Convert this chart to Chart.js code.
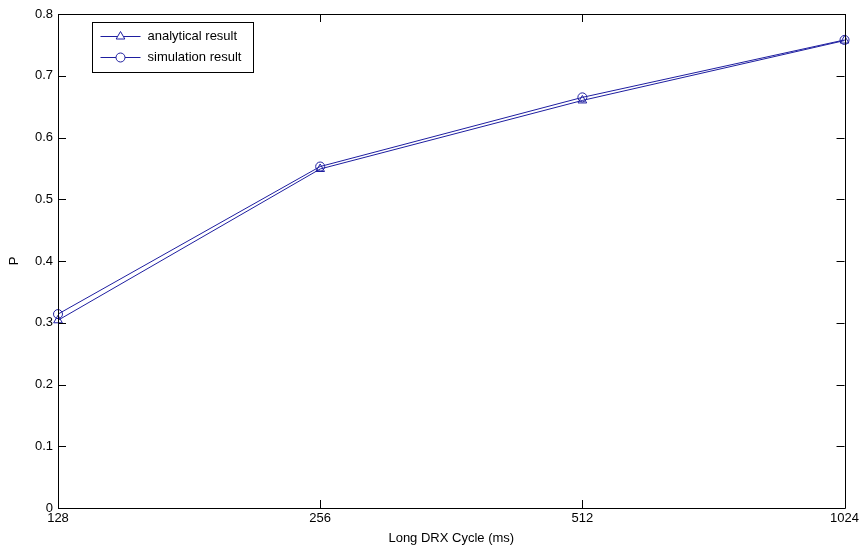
<!DOCTYPE html>
<html>
<head>
<meta charset="utf-8">
<script src="https://cdn.jsdelivr.net/npm/chart.js@4"></script>
<style>
  body { margin: 0; background: #fff; }
  #wrap { width: 862px; height: 556px; }
</style>
</head>
<body>
<div id="wrap"><canvas id="drxChart"></canvas></div>
<script>
// data
var cycles = ["128", "256", "512", "1024"];
var analytical = [0.304, 0.549, 0.660, 0.757];
var simulation = [0.314, 0.553, 0.665, 0.758];
var yTicks = [0, 0.1, 0.2, 0.3, 0.4, 0.5, 0.6, 0.7, 0.8];
var seriesNames = ["analytical result", "simulation result"];

var lineColor = "#1e1ea0";
var font = "Liberation Sans, Arial, sans-serif";

// matlab style box with inward ticks
var boxPlugin = {
    id: "box",
    afterDraw: function (chart) {
        var c = chart.ctx, a = chart.chartArea;
        var xs = chart.scales.x, ys = chart.scales.y;
        var len = 8;
        c.save();
        c.strokeStyle = "#000";
        c.lineWidth = 1;
        c.beginPath();
        c.rect(Math.round(a.left) + 0.5, Math.round(a.top) + 0.5,
               Math.round(a.right - a.left), Math.round(a.bottom - a.top));
        cycles.forEach(function (v, i) {
            var px = Math.round(xs.getPixelForValue(i)) + 0.5;
            c.moveTo(px, a.bottom); c.lineTo(px, a.bottom - len);
            c.moveTo(px, a.top); c.lineTo(px, a.top + len);
        });
        yTicks.forEach(function (v) {
            var py = Math.round(ys.getPixelForValue(v)) + 0.5;
            c.moveTo(a.left, py); c.lineTo(a.left + len, py);
            c.moveTo(a.right, py); c.lineTo(a.right - len, py);
        });
        c.stroke();

        // legend box
        var lx = 92.5, ly = 22.5, lw = 161, lh = 50;
        c.fillStyle = "#fff";
        c.fillRect(lx, ly, lw, lh);
        c.strokeRect(lx, ly, lw, lh);
        c.font = "13px " + font;
        c.textBaseline = "middle";
        var styles = ["triangle", "circle"];
        var radii = [5, 4.5];
        for (var k = 0; k < 2; k++) {
            var yy = ly + 14 + k * 21;
            c.strokeStyle = lineColor;
            c.beginPath();
            c.moveTo(lx + 8, yy); c.lineTo(lx + 48, yy);
            c.stroke();
            c.fillStyle = "#fff";
            Chart.helpers.drawPoint(c, { pointStyle: styles[k], radius: radii[k], borderWidth: 1 }, lx + 28, yy);
            c.fillStyle = "#000";
            c.fillText(seriesNames[k], lx + 55, yy);
        }
        c.restore();
    }
};

var ctx = document.getElementById("drxChart");
var drxChart = new Chart(ctx, {
    type: "line",
    data: {
        labels: cycles,
        datasets: [{
            label: seriesNames[0],
            data: analytical,
            borderColor: lineColor,
            backgroundColor: "rgba(0,0,0,0)",
            pointStyle: "triangle",
            pointRadius: 5,
            pointBorderColor: lineColor,
            pointBackgroundColor: "rgba(0,0,0,0)",
            borderWidth: 1,
            tension: 0
        }, {
            label: seriesNames[1],
            data: simulation,
            borderColor: lineColor,
            backgroundColor: "rgba(0,0,0,0)",
            pointStyle: "circle",
            pointRadius: 4.5,
            pointBorderColor: lineColor,
            pointBackgroundColor: "rgba(0,0,0,0)",
            borderWidth: 1,
            tension: 0
        }]
    },
    options: {
        responsive: true,
        maintainAspectRatio: false,
        animation: false,
        layout: { padding: { left: 0, right: 13, top: 14, bottom: 0 } },
        plugins: {
            legend: { display: false },
            tooltip: { enabled: false }
        },
        scales: {
            x: {
                type: "category",
                offset: false,
                grid: { display: false, drawTicks: false },
                border: { display: false },
                ticks: {
                    autoSkip: false,
                    maxRotation: 0,
                    padding: 3,
                    color: "#000",
                    font: { family: font, size: 13 }
                },
                title: {
                    display: true,
                    text: "Long DRX Cycle (ms)",
                    color: "#000",
                    font: { family: font, size: 13 },
                    padding: { top: 0, bottom: 10 }
                },
                afterFit: function (s) { s.height = 48; }
            },
            y: {
                min: 0,
                max: 0.8,
                grid: { display: false, drawTicks: false },
                border: { display: false },
                afterBuildTicks: function (s) {
                    s.ticks = yTicks.map(function (v) { return { value: v }; });
                },
                ticks: {
                    padding: 5,
                    color: "#000",
                    font: { family: font, size: 13 },
                    callback: function (v) { return String(Math.round(v * 10) / 10); }
                },
                title: {
                    display: true,
                    text: "P",
                    color: "#000",
                    font: { family: font, size: 13 },
                    padding: { top: 7, bottom: 0 }
                },
                afterFit: function (s) { s.width = 58; }
            }
        }
    },
    plugins: [boxPlugin]
});
</script>
</body>
</html>
